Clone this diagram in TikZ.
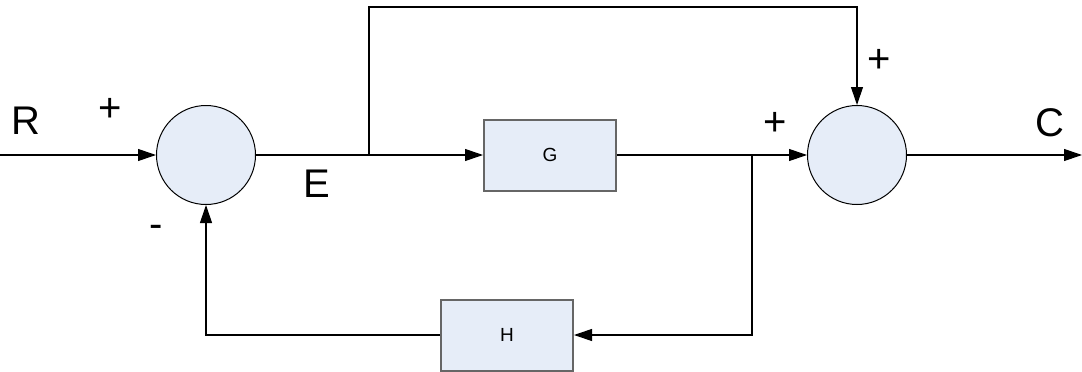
\documentclass[tikz,border=0pt]{standalone}
\usepackage{fontspec}
\setmainfont{Liberation Sans}
\usetikzlibrary{arrows.meta}
\definecolor{blockfill}{HTML}{E6EDF8}
\tikzset{
  sumnode/.style={circle, draw=black, line width=1pt, fill=blockfill, minimum size=99pt, inner sep=0pt},
  blocknode/.style={rectangle, draw=black!60, line width=2pt, fill=blockfill, minimum width=132pt, minimum height=71pt, inner sep=0pt, font=\fontsize{19}{22}\selectfont},
  lbl/.style={inner sep=0pt, font=\fontsize{40}{46}\selectfont},
  wire/.style={line width=1.1pt, draw=black},
  arr/.style={wire, -{Triangle[length=18pt,width=12pt]}},
}
\begin{document}
\begin{tikzpicture}[x=1pt,y=-1pt]
\useasboundingbox (0,0) rectangle (1082,372);
\node[sumnode] (s1) at (206,155) {};
\node[sumnode] (s2) at (857,155) {};
\node[blocknode] (g) at (550,155) {G};
\node[blocknode] (h) at (507,335) {H};
\coordinate (in) at (0,155);
\coordinate (out) at (1082,155);
\coordinate (e) at (369,155);
\coordinate (fb) at (752,155);
\coordinate (top1) at (369,7);
\coordinate (top2) at (857,7);
\coordinate (fbb) at (752,335);
\coordinate (fbl) at (206,335);
\draw[arr] (in) -- (s1.west);
\draw[wire] (s1.east) -- (e);
\draw[arr] (e) -- (g.west);
\draw[arr] (g.east) -- (s2.west);
\draw[arr] (s2.east) -- (out);
\draw[arr] (e) -- (top1) -- (top2) -- (s2.north);
\draw[arr] (fb) -- (fbb) -- (h.east);
\draw[arr] (h.west) -- (fbl) -- (s1.south);
\node[lbl] (lr) at (26,121) {R};
\node[lbl] (lp1) at (110,110) {+};
\node[lbl] (le) at (317,184) {E};
\node[lbl] (lm) at (156,231) {-};
\node[lbl] (lp2) at (775,124) {+};
\node[lbl] (lp3) at (879,61) {+};
\node[lbl] (lc) at (1050,123) {C};
\end{tikzpicture}
\end{document}
